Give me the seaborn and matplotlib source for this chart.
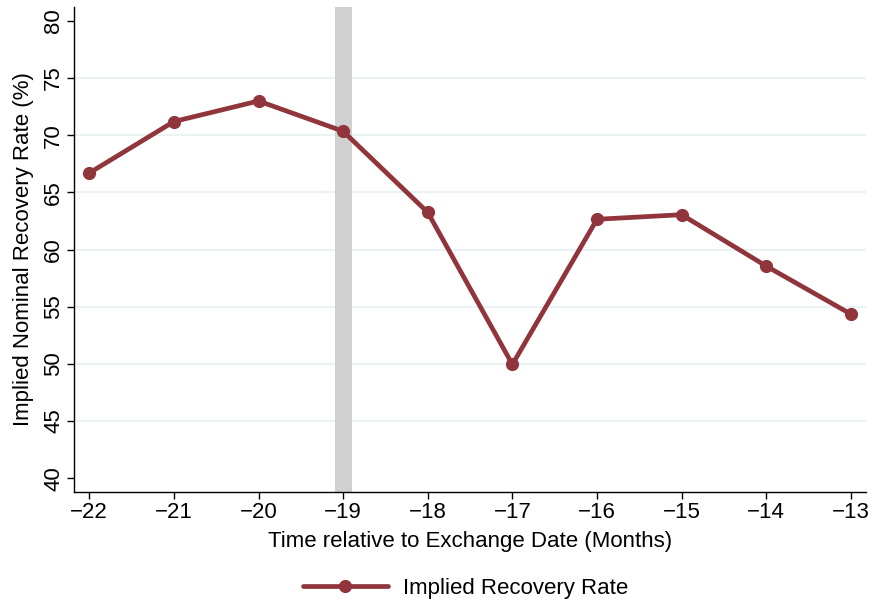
import matplotlib
matplotlib.use("Agg")
import matplotlib.pyplot as plt
import pandas as pd
import seaborn as sns

# Values
months = [-22, -21, -20, -19, -18, -17, -16, -15, -14, -13]
recovery = [66.7, 71.2, 73.0, 70.35, 63.25, 49.95, 62.65, 63.05, 58.55, 54.35]
y_ticks = [40, 45, 50, 55, 60, 65, 70, 75, 80]
grid_levels = [45, 50, 55, 60, 65, 70, 75]
exchange_band = (-19.1, -18.9)

df = pd.DataFrame({"Month": months, "Rate": recovery})

sns.set_theme(style="white")
plt.rcParams["font.family"] = ["Liberation Sans", "DejaVu Sans"]
plt.rcParams["text.color"] = "black"
plt.rcParams["axes.labelcolor"] = "black"
plt.rcParams["xtick.color"] = "black"
plt.rcParams["ytick.color"] = "black"

line_color = "#90353b"

fig = plt.figure(figsize=(8.74, 6.05), dpi=100)
ax = fig.add_axes([0.0847, 0.187, 0.9063, 0.801])

# shaded marker for exchange announcement
ax.axvspan(*exchange_band, color="#d0d0d0", lw=0, zorder=1)

for lvl in grid_levels:
    ax.axhline(lvl, color="#eaf2f3", lw=1.5, zorder=0)

sns.lineplot(data=df, x="Month", y="Rate", color=line_color, marker="o",
             markersize=9.5, markeredgewidth=0, linewidth=3.4,
             label="Implied Recovery Rate", ax=ax, zorder=3)

ax.set_xlim(-22.18, -12.82)
ax.set_ylim(38.8, 81.2)
ax.set_xticks(months)
ax.set_yticks(y_ticks)
ax.tick_params(axis="both", direction="out", length=5, width=1,
               color="black", labelcolor="black", labelsize=16, pad=2,
               bottom=True, left=True)
ax.tick_params(axis="y", labelrotation=90)
for lab in ax.get_yticklabels():
    lab.set_verticalalignment("center")

for side in ["top", "right"]:
    ax.spines[side].set_visible(False)
for side in ["left", "bottom"]:
    ax.spines[side].set_color("black")
    ax.spines[side].set_linewidth(1)

ax.set_xlabel("Time relative to Exchange Date (Months)", fontsize=16,
              labelpad=6)
ax.set_ylabel("Implied Nominal Recovery Rate (%)", fontsize=16, labelpad=7)

ax.legend(loc="center", bbox_to_anchor=(0.533, 0.028),
          bbox_transform=fig.transFigure, frameon=False, fontsize=16,
          handlelength=3.8, handletextpad=0.7)

fig.savefig("out.png", dpi=100)
